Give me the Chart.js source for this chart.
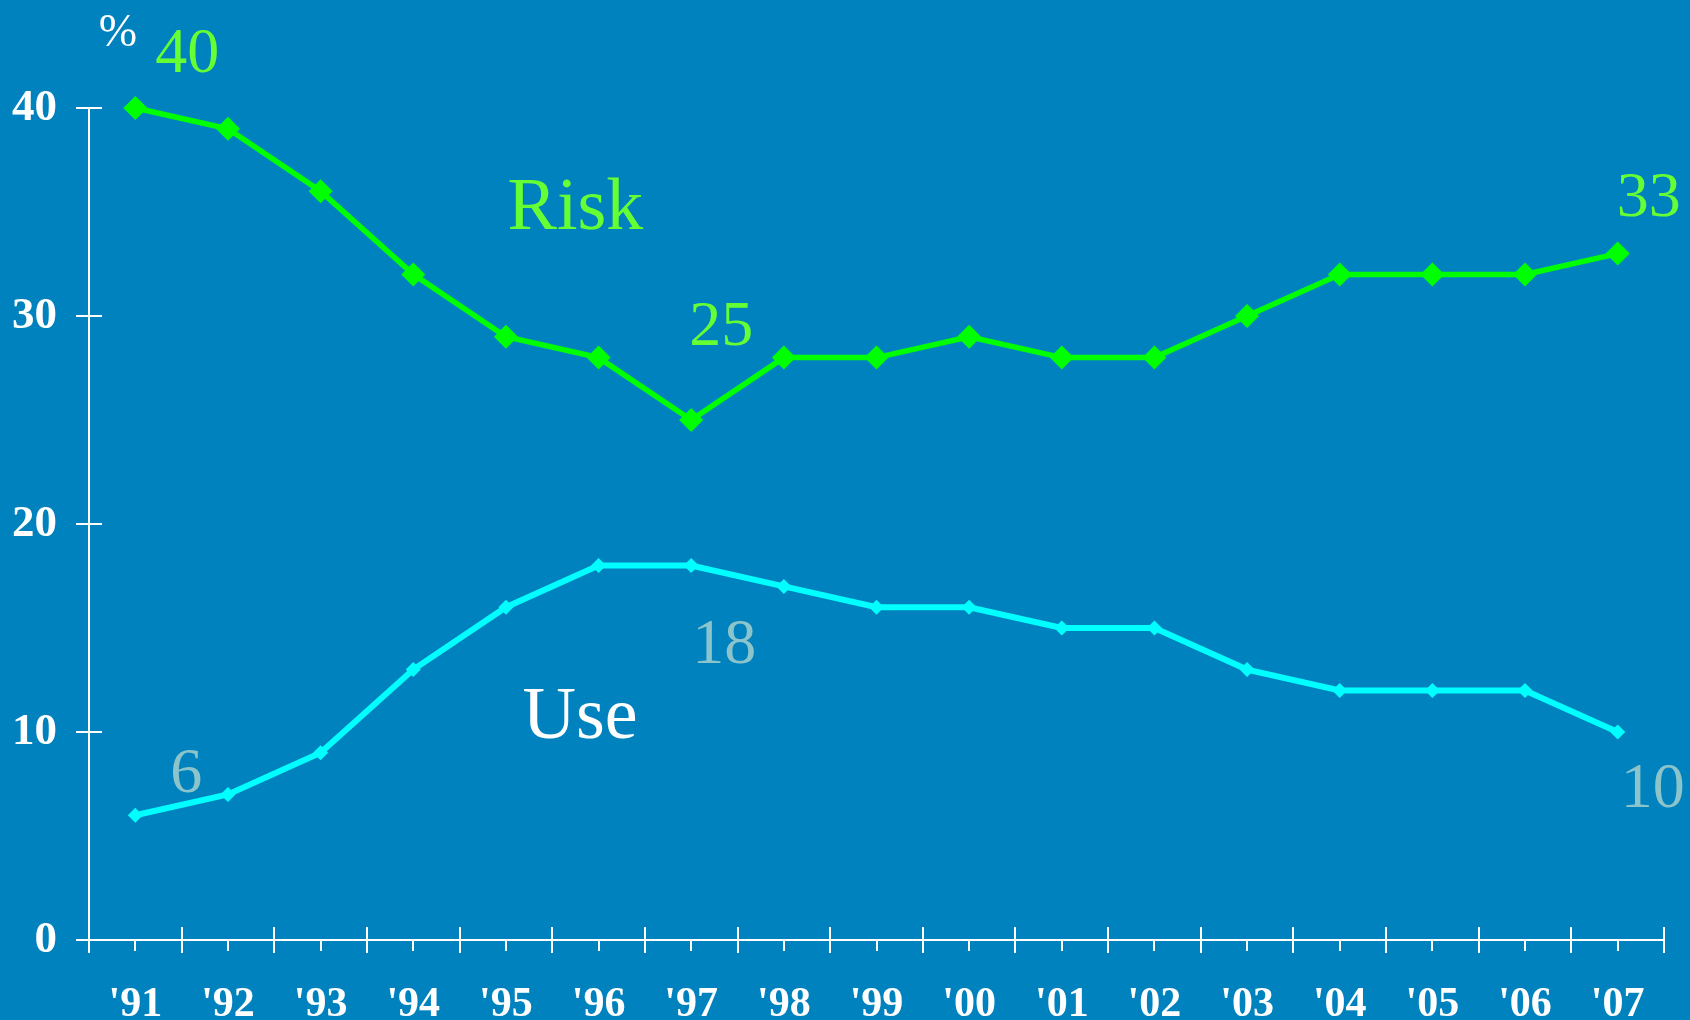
<!DOCTYPE html>
<html>
<head>
<meta charset="utf-8">
<script src="https://cdn.jsdelivr.net/npm/chart.js@4.4.1/dist/chart.umd.min.js"></script>
<style>
    body { margin: 0; background: #0082be; }
    #chart { display: block; background: #0082be; }
</style>
</head>
<body>
<canvas id="chart" width="1690" height="1020"></canvas>
<script>
var years = ["'91", "'92", "'93", "'94", "'95", "'96", "'97", "'98", "'99", "'00", "'01", "'02", "'03", "'04", "'05", "'06", "'07"];
var riskValues = [40, 39, 36, 32, 29, 28, 25, 28, 28, 29, 28, 28, 30, 32, 32, 32, 33];
var useValues = [6, 7, 9, 13, 16, 18, 18, 17, 16, 16, 15, 15, 13, 12, 12, 12, 10];
var yTicks = [0, 10, 20, 30, 40];
var seriesNames = ['Risk', 'Use'];
var unitLabel = '%';

var serif = '"Liberation Serif", "Times New Roman", serif';
var riskColor = '#00ff00';
var useColor = '#00ffff';
var riskTextColor = '#66ff33';
var useTextColor = '#8cc4cc';

// number callouts next to first / low-high / last points
var callouts = [
    { values: riskValues, index: 0, dx: 52, dy: -36, color: riskTextColor },
    { values: riskValues, index: 6, dx: 30, dy: -75, color: riskTextColor },
    { values: riskValues, index: 16, dx: 31, dy: -38, color: riskTextColor },
    { values: useValues, index: 0, dx: 51, dy: -23, color: useTextColor },
    { values: useValues, index: 6, dx: 33, dy: 97, color: useTextColor },
    { values: useValues, index: 16, dx: 35, dy: 75, color: useTextColor }
];

// series names, placed in data space (category index, value)
var namePlaces = [
    { at: 4.75, level: 34.2, color: riskTextColor },
    { at: 4.8, level: 9.7, color: '#ffffff' }
];

var axisTicks = {
    id: 'axisTicks',
    afterDraw: function(chart) {
        var ctx = chart.ctx;
        var x = chart.scales.x;
        var y = chart.scales.y;
        var step = x.getPixelForValue(1) - x.getPixelForValue(0);
        ctx.save();
        ctx.strokeStyle = '#ffffff';
        ctx.lineWidth = 2;
        ctx.beginPath();
        for (var i = 0; i <= years.length; i++) {
            var px = Math.round(x.getPixelForValue(i) - step / 2);
            ctx.moveTo(px, y.bottom - 13);
            ctx.lineTo(px, y.bottom + 13);
        }
        years.forEach(function(year, i) {
            var px = Math.round(x.getPixelForValue(i));
            ctx.moveTo(px, y.bottom);
            ctx.lineTo(px, y.bottom + 11);
        });
        yTicks.forEach(function(v) {
            var py = Math.round(y.getPixelForValue(v));
            ctx.moveTo(x.left - 13, py);
            ctx.lineTo(x.left + 13, py);
        });
        ctx.stroke();
        ctx.restore();
    }
};

var chartText = {
    id: 'chartText',
    afterDraw: function(chart) {
        var ctx = chart.ctx;
        var x = chart.scales.x;
        var y = chart.scales.y;
        ctx.save();
        ctx.textAlign = 'center';
        ctx.textBaseline = 'alphabetic';

        ctx.font = '64px ' + serif;
        callouts.forEach(function(c) {
            var v = c.values[c.index];
            ctx.fillStyle = c.color;
            ctx.fillText(String(v), x.getPixelForValue(c.index) + c.dx, y.getPixelForValue(v) + c.dy);
        });

        ctx.font = '74px ' + serif;
        seriesNames.forEach(function(name, i) {
            var p = namePlaces[i];
            ctx.fillStyle = p.color;
            ctx.fillText(name, x.getPixelForValue(p.at), y.getPixelForValue(p.level));
        });

        ctx.font = '46px ' + serif;
        ctx.fillStyle = '#ffffff';
        ctx.fillText(unitLabel, x.left + 29, y.top - 62);
        ctx.restore();
    }
};

var ctx = document.getElementById('chart').getContext('2d');
var chart = new Chart(ctx, {
    type: 'line',
    data: {
        labels: years,
        datasets: [{
            label: seriesNames[0],
            data: riskValues,
            borderColor: riskColor,
            backgroundColor: riskColor,
            borderWidth: 5.5,
            pointStyle: 'rectRot',
            pointRadius: 12,
            pointBorderWidth: 0,
            tension: 0,
            clip: false
        }, {
            label: seriesNames[1],
            data: useValues,
            borderColor: useColor,
            backgroundColor: useColor,
            borderWidth: 6,
            pointStyle: 'rectRot',
            pointRadius: 7.5,
            pointBorderWidth: 0,
            tension: 0,
            clip: false
        }]
    },
    options: {
        responsive: false,
        animation: false,
        layout: { padding: { top: 108, right: 26, left: 0, bottom: 0 } },
        plugins: {
            legend: { display: false },
            tooltip: { enabled: false }
        },
        scales: {
            x: {
                offset: true,
                grid: { display: false, drawTicks: false },
                border: { display: true, color: '#ffffff', width: 2 },
                ticks: {
                    color: '#ffffff',
                    padding: 40,
                    maxRotation: 0,
                    autoSkip: false,
                    font: { family: serif, size: 42, weight: 'bold' }
                },
                afterFit: function(scale) { scale.height = 80; }
            },
            y: {
                min: 0,
                max: 40,
                grid: { display: false, drawTicks: false },
                border: { display: true, color: '#ffffff', width: 2 },
                ticks: {
                    color: '#ffffff',
                    padding: 32,
                    font: { family: serif, size: 45, weight: 'bold' }
                },
                afterBuildTicks: function(scale) {
                    scale.ticks = yTicks.map(function(v) { return { value: v }; });
                },
                afterFit: function(scale) { scale.width = 89; }
            }
        }
    },
    plugins: [axisTicks, chartText]
});
</script>
</body>
</html>
